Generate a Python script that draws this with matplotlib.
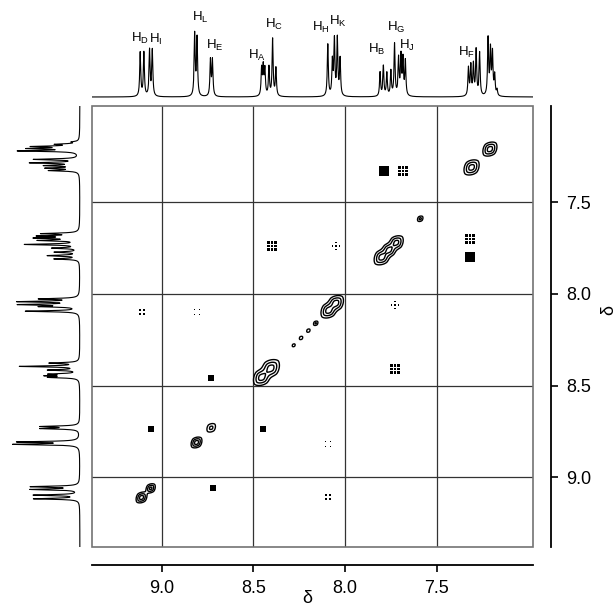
import numpy as np
import matplotlib.pyplot as plt
from matplotlib.path import Path
from matplotlib.patches import Rectangle

plt.rcParams['font.family'] = ['Liberation Sans', 'DejaVu Sans']
plt.rcParams['mathtext.fontset'] = 'custom'
plt.rcParams['mathtext.rm'] = 'Liberation Sans'
plt.rcParams['mathtext.it'] = 'Liberation Sans:italic'

# 1D spectrum: individual lines (ppm, height)
line_ppm = [9.117, 9.097, 9.066, 9.051, 8.820, 8.807, 8.734, 8.723,
            8.455, 8.446, 8.437, 8.415, 8.395, 8.377,
            8.094, 8.069, 8.058, 8.042, 8.027,
            7.809, 7.791, 7.772, 7.750, 7.730, 7.708, 7.695, 7.684, 7.671,
            7.327, 7.314, 7.300, 7.285, 7.266,
            7.220, 7.207, 7.196, 7.184, 7.171]
line_h = [44, 44, 46, 46, 62, 58, 36, 36,
          27, 28, 26, 29, 57, 28,
          52, 34, 55, 57, 37,
          24, 30, 23, 25, 52, 37, 39, 36, 35,
          28, 30, 31, 46, 43,
          57, 45, 42, 20, 6]

# proton labels on the top trace
lab_text = ['D', 'I', 'L', 'E', 'A', 'C', 'H', 'K', 'B', 'G', 'J', 'F']
lab_ppm = [9.12, 9.035, 8.79, 8.71, 8.48, 8.39, 8.13, 8.04, 7.83, 7.72, 7.665, 7.34]
lab_h = [51, 50, 72, 44, 34, 65, 62, 68, 40, 62, 44, 37]

# diagonal peaks (ppm, relative intensity, width in ppm)
diag_ppm = [9.11, 9.06, 8.81, 8.73, 8.455, 8.405, 8.28, 8.24, 8.20, 8.16,
            8.09, 8.05, 7.80, 7.76, 7.72, 7.59, 7.31, 7.21]
diag_amp = [1.0, 0.8, 1.0, 0.35, 1.0, 1.0, 0.2, 0.25, 0.25, 0.3,
            1.0, 1.0, 1.0, 0.9, 0.9, 0.35, 1.0, 1.0]
diag_w = [0.010, 0.009, 0.010, 0.011, 0.015, 0.016, 0.005, 0.005, 0.005, 0.006,
          0.014, 0.014, 0.014, 0.013, 0.013, 0.007, 0.014, 0.013]

# cross peaks (F2 ppm, F1 ppm, appearance)
cross_x = [7.79, 7.32, 8.73, 9.06, 8.446, 8.72,
           7.685, 7.32, 8.40, 7.73,
           8.05, 7.73,
           9.11, 8.093, 8.81, 8.093]
cross_y = [7.33, 7.80, 8.46, 8.735, 8.735, 9.06,
           7.33, 7.70, 7.74, 8.41,
           7.74, 8.06,
           8.10, 9.11, 8.10, 8.817]
cross_kind = ['sqL', 'sqL', 'sqS', 'sqS', 'sqS', 'sqS',
              'g3', 'g3', 'g3', 'g3',
              'plus', 'plus',
              'g2', 'g2', 'g2l', 'g2l']


def dot_marker(cells, n, frac):
    verts, codes = [], []
    c = np.linspace(-0.5, 0.5, n)
    h = frac / 2
    for i, j in cells:
        x0, y0 = c[i], c[j]
        verts += [(x0-h, y0-h), (x0+h, y0-h), (x0+h, y0+h), (x0-h, y0+h), (0, 0)]
        codes += [Path.MOVETO, Path.LINETO, Path.LINETO, Path.LINETO, Path.CLOSEPOLY]
    return Path(verts, codes)


all3 = [(i, j) for i in range(3) for j in range(3)]
plus3 = [(1, 0), (0, 1), (1, 1), (2, 1), (1, 2)]
all2 = [(i, j) for i in range(2) for j in range(2)]
styles = {
    'sqL': ('s', 42),
    'sqS': ('s', 16),
    'g3': (dot_marker(all3, 3, 0.3), 44),
    'plus': (dot_marker(plus3, 3, 0.24), 40),
    'g2': (dot_marker(all2, 2, 0.55), 24),
    'g2l': (dot_marker(all2, 2, 0.32), 24),
}


def spectrum(x):
    y = np.zeros_like(x)
    hw = 0.0034
    for p, h in zip(line_ppm, line_h):
        y += h / (1 + ((x - p) / hw) ** 2)
    return y


lo, hi = 6.975, 9.38
W, H = 616, 607
fig = plt.figure(figsize=(W / 100, H / 100), dpi=100)

ax = fig.add_axes([92 / W, 1 - 547 / H, 441 / W, 441 / H])
ax.set_xlim(hi, lo)
ax.set_ylim(hi, lo)

# diagonal contours
g = np.linspace(lo, hi, 900)
X, Y = np.meshgrid(g, g)
Z = np.zeros_like(X)
for p, a, w in zip(diag_ppm, diag_amp, diag_w):
    u = ((X - p) + (Y - p)) / np.sqrt(2)
    v = ((X - p) - (Y - p)) / np.sqrt(2)
    Z += a * np.exp(-(np.abs(u) / (1.3 * w)) ** 1.6 / 2 - (np.abs(v) / w) ** 1.6 / 2)
ax.contour(X, Y, Z, levels=[0.08, 0.25, 0.6], colors='k', linewidths=1.0)

for k in styles:
    xs = [x for x, kk in zip(cross_x, cross_kind) if kk == k]
    ys = [y for y, kk in zip(cross_y, cross_kind) if kk == k]
    m, s = styles[k]
    ax.scatter(xs, ys, marker=m, s=s, c='k', linewidths=0, zorder=3)

ticks = [9.0, 8.5, 8.0, 7.5]
for t in ticks:
    ax.axvline(t, color='0.2', lw=0.9, zorder=1)
    ax.axhline(t, color='0.2', lw=0.9, zorder=1)
ax.add_patch(Rectangle((0, 0), 1, 1, transform=ax.transAxes, fill=False,
                       ec='0.45', lw=1.2, clip_on=False))

for side in ['top', 'left']:
    ax.spines[side].set_visible(False)
ax.spines['bottom'].set_position(('outward', 13))
ax.spines['right'].set_position(('outward', 13))
ax.spines['bottom'].set_linewidth(1.3)
ax.spines['right'].set_linewidth(1.3)
ax.yaxis.tick_right()
ax.set_xticks(ticks)
ax.set_yticks(ticks)
ax.set_xticklabels([f'{t:.1f}' for t in ticks])
ax.set_yticklabels([f'{t:.1f}' for t in ticks])
ax.tick_params(length=5, width=1.2, labelsize=13, pad=6)

fig.text(307 / W, 0.0, 'δ', fontsize=13, ha='center', va='bottom')
fig.text(609 / W, 1 - 310 / H, 'δ', fontsize=13, ha='center', va='center', rotation=90)

# top projection
x1 = np.linspace(lo, hi, 4000)
s1 = spectrum(x1)
axt = fig.add_axes([92 / W, 1 - 106 / H, 441 / W, 106 / H])
axt.plot(x1, s1, color='k', lw=0.8)
axt.set_xlim(hi, lo)
axt.set_ylim(-9, 97)
axt.axis('off')
for t, p, h in zip(lab_text, lab_ppm, lab_h):
    axt.text(p, h, r'H$_{\mathrm{' + t + '}}$', fontsize=9.5, ha='center', va='bottom')

# left projection
axl = fig.add_axes([0, 1 - 547 / H, 85 / W, 441 / H])
axl.plot(s1, x1, color='k', lw=0.8)
axl.set_ylim(hi, lo)
axl.set_xlim(78, -5)
axl.axis('off')

fig.savefig('out.png', dpi=100)
